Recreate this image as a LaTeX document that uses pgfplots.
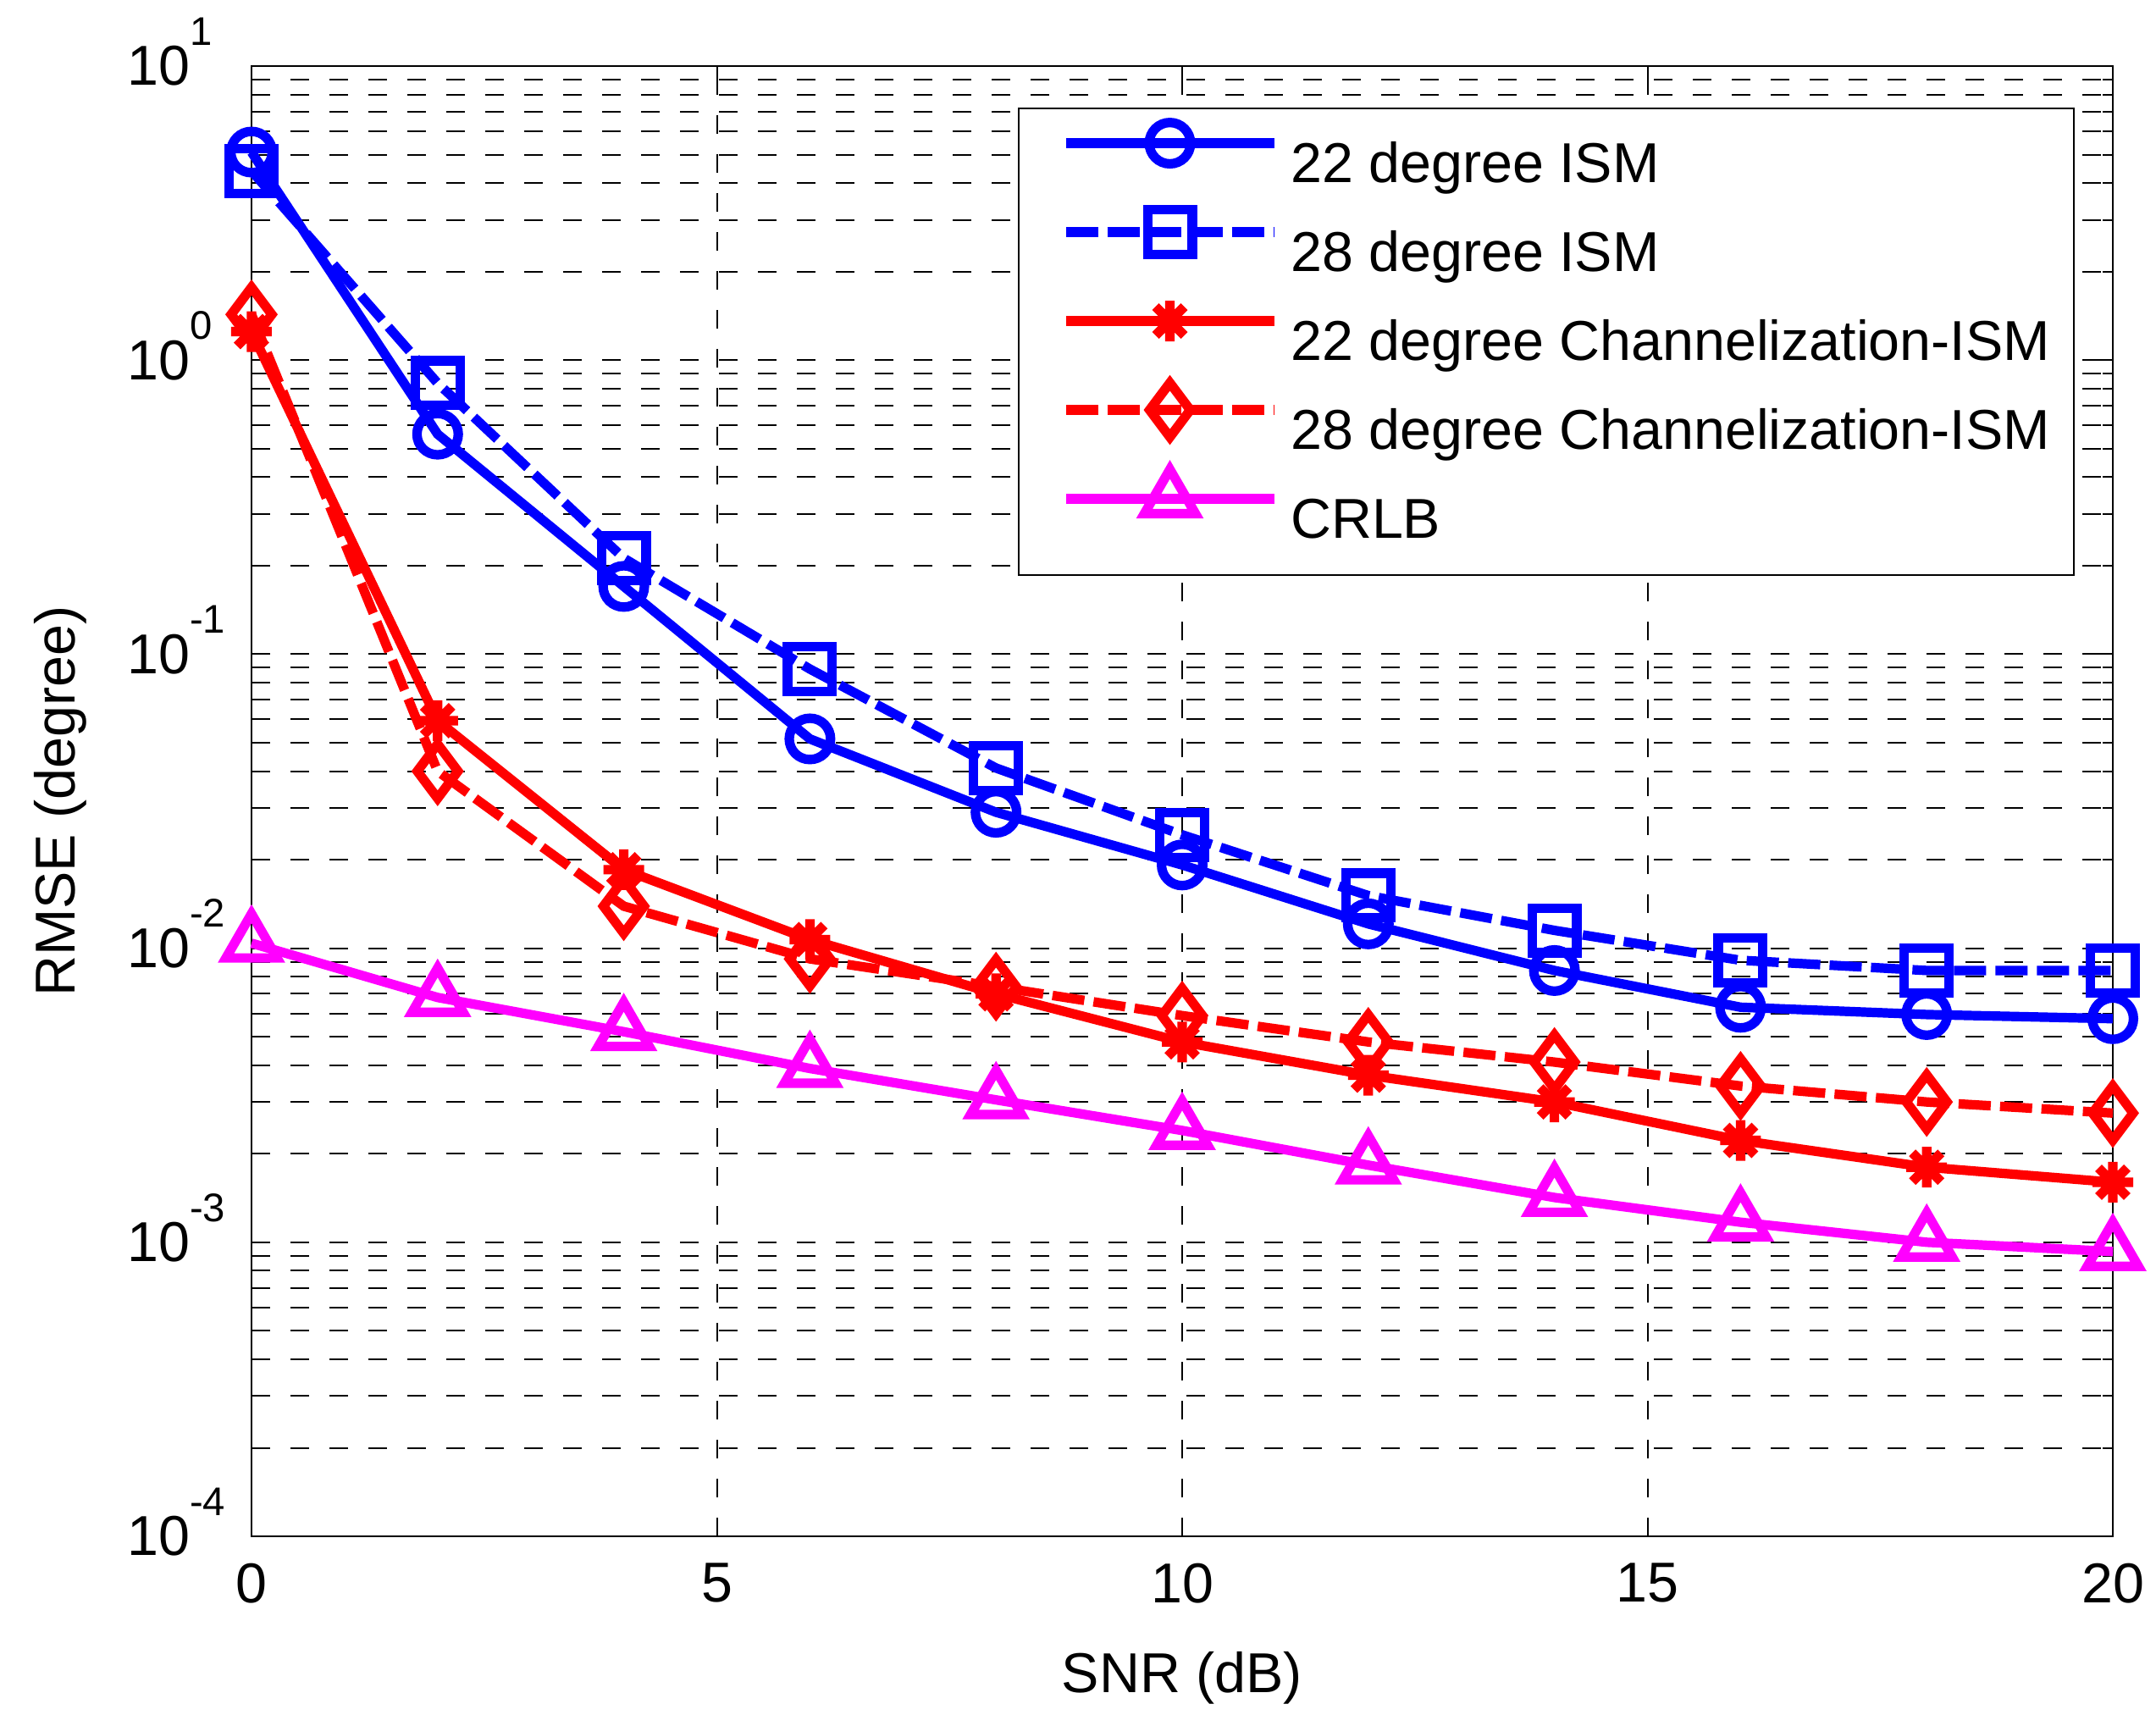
\documentclass[border=0pt]{standalone}
\usepackage{fontspec}
\setmainfont{Liberation Sans}
\usepackage{pgfplots}
\pgfplotsset{compat=1.18}
\usepackage{pgfplotstable}

\definecolor{mblue}{RGB}{0,0,255}
\definecolor{mred}{RGB}{255,0,0}
\definecolor{mmag}{RGB}{255,0,255}

\newcommand{\fs}{\fontsize{16.6pt}{20pt}\selectfont}
\newcommand{\ylab}[1]{10\smash{\rlap{\raisebox{11.9pt}{\fontsize{11.8pt}{12pt}\selectfont #1}}}}

\pgfdeclareplotmark{mstar}{%
  \pgfpathmoveto{\pgfqpoint{0pt}{\pgfplotmarksize}}%
  \pgfpathlineto{\pgfqpoint{0pt}{-\pgfplotmarksize}}%
  \pgfpathmoveto{\pgfqpoint{\pgfplotmarksize}{0pt}}%
  \pgfpathlineto{\pgfqpoint{-\pgfplotmarksize}{0pt}}%
  \pgfpathmoveto{\pgfqpoint{.707\pgfplotmarksize}{.707\pgfplotmarksize}}%
  \pgfpathlineto{\pgfqpoint{-.707\pgfplotmarksize}{-.707\pgfplotmarksize}}%
  \pgfpathmoveto{\pgfqpoint{-.707\pgfplotmarksize}{.707\pgfplotmarksize}}%
  \pgfpathlineto{\pgfqpoint{.707\pgfplotmarksize}{-.707\pgfplotmarksize}}%
  \pgfusepathqstroke
}

\pgfplotstableread{
x  ism22   ism28   ch22    ch28    crlb
0  5.1     4.4     1.25    1.43    0.0104
2  0.56    0.835   0.0594  0.0400  0.0068
4  0.170   0.212   0.0185  0.0139  0.0052
6  0.0515  0.089   0.0107  0.0092  0.0039
8  0.0290  0.041   0.0070  0.0074  0.00305
10 0.0192  0.0243  0.0048  0.0059  0.00240
12 0.0121  0.0151  0.0037  0.0048  0.00183
14 0.0084  0.0115  0.0030  0.0041  0.00142
16 0.0063  0.0091  0.00222 0.0034  0.00117
18 0.00595 0.0084  0.00180 0.0030  0.00100
20 0.00576 0.0084  0.00160 0.00275 0.00093
}\datatable

\begin{document}
\begin{tikzpicture}
\begin{axis}[
  name=ax,
  scale only axis,
  width=549.5pt, height=434pt,
  xmin=0, xmax=20,
  ymode=log, ymin=1e-4, ymax=10,
  clip=false,
  xtick={0,5,10,15,20}, xticklabels={0,5,10,15,20},
  ytick={1e-4,1e-3,1e-2,1e-1,1,10},
  yticklabels={\ylab{-4},\ylab{-3},\ylab{-2},\ylab{-1},\ylab{0},\ylab{1}},
  minor ytick={2e-4,3e-4,4e-4,5e-4,6e-4,7e-4,8e-4,9e-4,
               2e-3,3e-3,4e-3,5e-3,6e-3,7e-3,8e-3,9e-3,
               2e-2,3e-2,4e-2,5e-2,6e-2,7e-2,8e-2,9e-2,
               2e-1,3e-1,4e-1,5e-1,6e-1,7e-1,8e-1,9e-1,
               2,3,4,5,6,7,8,9},
  tick align=inside,
  major tick length=5.5pt, minor tick length=3pt,
  every tick/.style={black, line width=0.5pt},
  axis line style={black, line width=0.5pt},
  grid=both,
  major grid style={black, line width=0.5pt, dash pattern=on 5.5pt off 6pt},
  minor grid style={black, line width=0.5pt, dash pattern=on 5.5pt off 6pt},
  xticklabel style={anchor=north, inner sep=0pt, yshift=-7.75pt, font=\fs},
  yticklabel style={anchor=east, inner sep=0pt, xshift=-18pt, font=\fs},
  xlabel={SNR (dB)}, ylabel={RMSE (degree)},
  xlabel style={at={(axis description cs:0.5,-0.106)}, anchor=base, inner sep=0pt, font=\fs},
  ylabel style={at={(axis description cs:-0.0883,0.5)}, anchor=south, inner sep=0pt, font=\fs},
  legend style={
    at={(rel axis cs:0.4117,0.9718)}, anchor=north west,
    draw=black, line width=0.5pt, fill=white,
    inner xsep=7pt, inner ysep=9.5pt,
    row sep=12.5pt, column sep=3.5pt,
    font=\fs,
    nodes={inner sep=0pt, text height=12.5pt, text depth=1.25pt},
    cells={anchor=west},
  },
  legend image code/.code={%
    \path (0pt,0pt) (67pt,0pt);
    \draw[#1, overlay, mark repeat=2, mark phase=2] plot coordinates {(5.5pt,6.1pt) (36.25pt,6.1pt) (67pt,6.1pt)};
  },
]
\addplot[mblue, line width=2.8pt, mark=o, mark size=6.1pt, mark options={solid}]
  table[x=x, y=ism22]{\datatable};
\addlegendentry{22 degree ISM}
\addplot[mblue, line width=2.8pt, dash pattern=on 9.5pt off 2.75pt, mark=square, mark size=6.6pt, mark options={solid}]
  table[x=x, y=ism28]{\datatable};
\addlegendentry{28 degree ISM}
\addplot[mred, line width=2.8pt, mark=mstar, mark size=6pt, mark options={solid}]
  table[x=x, y=ch22]{\datatable};
\addlegendentry{22 degree Channelization-ISM}
\addplot[mred, line width=2.8pt, dash pattern=on 9.5pt off 2.75pt, mark=diamond, mark size=8pt, mark options={solid}]
  table[x=x, y=ch28]{\datatable};
\addlegendentry{28 degree Channelization-ISM}
\addplot[mmag, line width=2.8pt, mark=triangle, mark size=8.7pt, mark options={solid}]
  table[x=x, y=crlb]{\datatable};
\addlegendentry{CRLB}
\end{axis}
\pgfresetboundingbox
\path ([shift={(-74.25pt,-52.5pt)}]ax.south west) rectangle ([shift={(12.75pt,19.5pt)}]ax.north east);
\end{tikzpicture}
\end{document}
